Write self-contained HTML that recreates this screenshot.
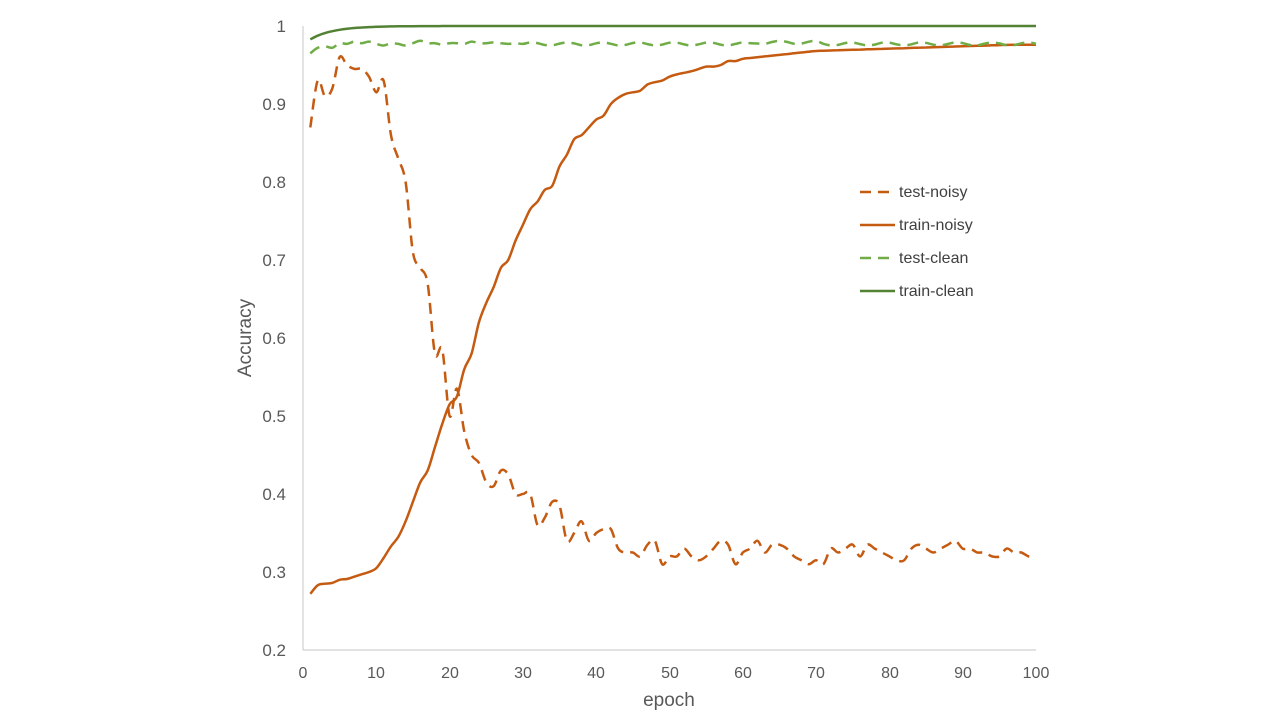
<!DOCTYPE html>
<html><head><meta charset="utf-8"><style>
html,body{margin:0;padding:0;background:#fff;}
svg{display:block;font-family:"Liberation Sans",sans-serif;}
</style></head><body>
<svg id="s" width="1280" height="720" viewBox="0 0 1280 720" xmlns="http://www.w3.org/2000/svg">
<line x1="303" y1="26" x2="303" y2="650" stroke="#d0d0d0" stroke-width="1.2"/>
<line x1="303" y1="650" x2="1036" y2="650" stroke="#d0d0d0" stroke-width="1.2"/>
<g fill="#595959" font-size="17" text-anchor="end">
<text x="286" y="32">1</text><text x="286" y="110">0.9</text><text x="286" y="188">0.8</text>
<text x="286" y="266">0.7</text><text x="286" y="344">0.6</text><text x="286" y="422">0.5</text>
<text x="286" y="500">0.4</text><text x="286" y="578">0.3</text><text x="286" y="656">0.2</text>
</g>
<g fill="#595959" font-size="16" text-anchor="middle">
<text x="303" y="678">0</text><text x="376" y="678">10</text><text x="450" y="678">20</text>
<text x="523" y="678">30</text><text x="596" y="678">40</text><text x="670" y="678">50</text>
<text x="743" y="678">60</text><text x="816" y="678">70</text><text x="890" y="678">80</text>
<text x="963" y="678">90</text><text x="1036" y="678">100</text>
</g>
<text x="669" y="706" font-size="19" fill="#595959" text-anchor="middle">epoch</text>
<text transform="translate(251,338) rotate(-90)" font-size="19" fill="#595959" text-anchor="middle">Accuracy</text>
<g id="series"></g>
<g font-size="16" fill="#404040">
<line x1="860" y1="192" x2="895" y2="192" stroke="#C55A11" stroke-width="2.5" stroke-dasharray="11,7"/>
<text x="899" y="197">test-noisy</text>
<line x1="860" y1="225" x2="895" y2="225" stroke="#C55A11" stroke-width="2.5"/>
<text x="899" y="230">train-noisy</text>
<line x1="860" y1="258" x2="895" y2="258" stroke="#70AD47" stroke-width="2.5" stroke-dasharray="11,7"/>
<text x="899" y="263">test-clean</text>
<line x1="860" y1="291" x2="895" y2="291" stroke="#548235" stroke-width="2.5"/>
<text x="899" y="296">train-clean</text>
</g>
</svg>
<script>
function X(e){return 303+e*7.33;}
function Y(v){return 26+(1-v)*780;}
function path(vals){
  var p=vals.map(function(v,i){return [X(i+1),Y(v)];});
  var d="M"+p[0][0].toFixed(1)+","+p[0][1].toFixed(1);
  for(var i=0;i<p.length-1;i++){
    var p0=p[i-1]||p[i],p1=p[i],p2=p[i+1],p3=p[i+2]||p2;
    var c1x=p1[0]+(p2[0]-p0[0])/6,c1y=p1[1]+(p2[1]-p0[1])/6;
    var c2x=p2[0]-(p3[0]-p1[0])/6,c2y=p2[1]-(p3[1]-p1[1])/6;
    d+="C"+c1x.toFixed(1)+","+c1y.toFixed(1)+" "+c2x.toFixed(1)+","+c2y.toFixed(1)+" "+p2[0].toFixed(1)+","+p2[1].toFixed(1);
  }
  return d;
}
var trainNoisy=[0.272,0.283,0.285,0.286,0.29,0.291,0.294,0.297,0.3,0.305,0.318,0.333,0.345,0.365,0.39,0.415,0.43,0.46,0.49,0.515,0.525,0.56,0.58,0.62,0.645,0.665,0.69,0.70,0.725,0.745,0.765,0.775,0.79,0.795,0.82,0.835,0.855,0.86,0.87,0.88,0.885,0.90,0.908,0.913,0.915,0.917,0.925,0.928,0.93,0.935,0.938,0.94,0.942,0.945,0.948,0.948,0.95,0.955,0.955,0.958];
for(var i=61;i<=100;i++){trainNoisy.push(i<=70?0.958+(i-60)*0.001:Math.min(0.976,0.968+(i-70)*0.0003));}
var testNoisy=[0.87,0.93,0.91,0.92,0.96,0.95,0.945,0.945,0.935,0.915,0.93,0.86,0.83,0.8,0.71,0.69,0.67,0.58,0.585,0.5,0.535,0.48,0.45,0.44,0.415,0.41,0.43,0.425,0.4,0.4,0.4,0.36,0.37,0.39,0.385,0.34,0.35,0.365,0.34,0.35,0.355,0.355,0.33,0.325,0.325,0.32,0.335,0.34,0.31,0.32,0.32,0.33,0.32,0.315,0.32,0.33,0.34,0.335,0.31,0.325,0.33,0.34,0.325,0.335,0.335,0.33,0.32,0.315,0.31,0.315,0.31,0.33,0.325,0.33,0.335,0.32,0.335,0.33,0.325,0.32,0.315,0.315,0.33,0.335,0.33,0.325,0.33,0.335,0.34,0.33,0.33,0.325,0.325,0.32,0.32,0.33,0.325,0.325,0.32,0.32];
var testClean=[0.965,0.972,0.974,0.972,0.978,0.977,0.98,0.978,0.98,0.977,0.975,0.978,0.977,0.975,0.978,0.981,0.978,0.978,0.976,0.978,0.978,0.977,0.98,0.978,0.978,0.979,0.978,0.977,0.978,0.977];
while(testClean.length<100){var k=testClean.length;testClean.push(0.977+0.002*Math.sin(k*1.3)+(k>60&&k<70?0.002:0));}
var trainClean=[];for(var e=1;e<=100;e++){trainClean.push(1-0.017*Math.exp(-(e-1)/3.2));}
var g=document.getElementById("series");
function add(vals,col,dash,w){var el=document.createElementNS("http://www.w3.org/2000/svg","path");el.setAttribute("d",path(vals));el.setAttribute("fill","none");el.setAttribute("stroke",col);el.setAttribute("stroke-width",w);if(dash)el.setAttribute("stroke-dasharray",dash);g.appendChild(el);}
add(testNoisy,"#C55A11","11,7",2.5);
add(trainNoisy,"#C55A11",null,2.5);
add(testClean,"#70AD47","11,7",2.5);
add(trainClean,"#548235",null,2.5);
</script>
</body></html>
